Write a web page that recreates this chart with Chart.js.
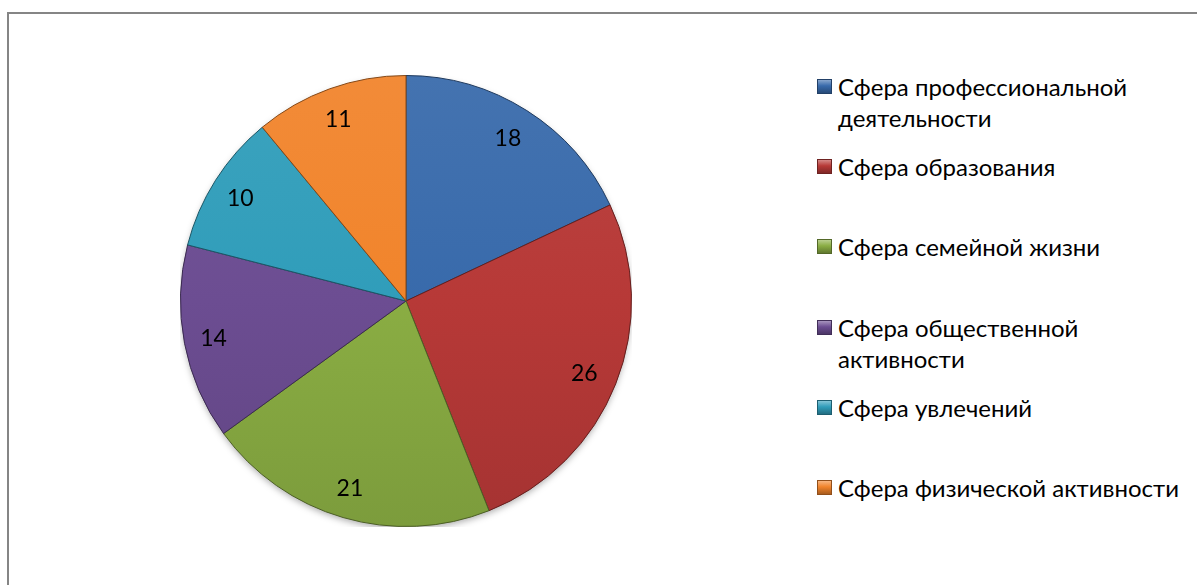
<!DOCTYPE html>
<html lang="ru">
<head>
<meta charset="utf-8">
<script src="https://cdn.jsdelivr.net/npm/chart.js@4/dist/chart.umd.min.js"></script>
<style>
  html, body { margin: 0; padding: 0; background: #fff; overflow: hidden; }
  body { width: 1197px; height: 585px; position: relative; font-family: Lato, "Noto Sans", sans-serif; }
  #frame { position: absolute; left: 7px; top: 12px; width: 1400px; height: 800px;
           border: 2px solid #858585; box-sizing: border-box; }
  #pieBox { position: absolute; left: 180px; top: 75px; width: 452px; height: 452px; }
  #legend { position: absolute; left: 817px; top: 71px; width: 380px; }
  .item { position: absolute; left: 0; font-size: 24px; line-height: 31px; color: #000; white-space: nowrap; }
  .item .txt { position: absolute; left: 21px; top: 0; }
  .item .box { position: absolute; left: 0; top: 8px; width: 15px; height: 15px; box-sizing: border-box; }
</style>
</head>
<body>
<div id="frame"></div>
<div id="pieBox"><canvas id="pie"></canvas></div>
<div id="legend"></div>
<script>
// categories / values
const LABELS = [
  "Сфера профессиональной деятельности",
  "Сфера образования",
  "Сфера семейной жизни",
  "Сфера общественной активности",
  "Сфера увлечений",
  "Сфера физической активности",
];
// how the legend wraps the long names
const LEGEND_LINES = [
  ["Сфера профессиональной", "деятельности"],
  ["Сфера образования"],
  ["Сфера семейной жизни"],
  ["Сфера общественной", "активности"],
  ["Сфера увлечений"],
  ["Сфера физической активности"],
];
const VALUES = [18, 26, 21, 14, 10, 11];
const COLORS = ["#386aab", "#b73937", "#8aad43", "#6c4d92", "#309dba", "#f1842b"];
const LEGEND_TOPS = [0, 80, 160, 241, 321, 401];

const shade = (hex, f) => {
  const n = parseInt(hex.slice(1), 16);
  const ch = [n >> 16, (n >> 8) & 255, n & 255].map(v =>
    Math.round(f >= 0 ? v + (255 - v) * f : v * (1 + f)));
  return `rgb(${ch.join(",")})`;
};

// html legend
const legend = document.getElementById("legend");
LEGEND_LINES.forEach((lines, i) => {
  const it = document.createElement("div");
  it.className = "item";
  it.style.top = LEGEND_TOPS[i] + "px";
  const box = document.createElement("div");
  box.className = "box";
  box.style.background = `linear-gradient(${shade(COLORS[i], 0.4)}, ${COLORS[i]} 45%, ${shade(COLORS[i], -0.3)})`;
  box.style.border = `1px solid ${shade(COLORS[i], -0.4)}`;
  const txt = document.createElement("div");
  txt.className = "txt";
  txt.innerHTML = lines.join("<br>");
  it.append(box, txt);
  legend.appendChild(it);
});

// soft shadow under the whole pie
const pieShadow = {
  id: "pieShadow",
  beforeDatasetsDraw(chart) {
    const arc = chart.getDatasetMeta(0).data[0];
    if (!arc) return;
    const { ctx } = chart;
    ctx.save();
    ctx.shadowColor = "rgba(0,0,0,0.35)";
    ctx.shadowBlur = 7;
    ctx.shadowOffsetY = 3;
    ctx.fillStyle = "#fff";
    ctx.beginPath();
    ctx.arc(arc.x, arc.y, arc.outerRadius - 1, 0, Math.PI * 2);
    ctx.fill();
    ctx.restore();
  },
};

// value labels at ~0.86 of the radius, like the original
const valueLabels = {
  id: "valueLabels",
  afterDatasetsDraw(chart) {
    const { ctx } = chart;
    const meta = chart.getDatasetMeta(0);
    ctx.save();
    ctx.font = "23px Lato, 'Noto Sans', sans-serif";
    ctx.fillStyle = "#000";
    ctx.textAlign = "center";
    ctx.textBaseline = "middle";
    meta.data.forEach((arc, i) => {
      const mid = (arc.startAngle + arc.endAngle) / 2;
      const r = arc.outerRadius * 0.86;
      ctx.fillText(String(VALUES[i]), arc.x + Math.cos(mid) * r - 2, arc.y + Math.sin(mid) * r + 1);
    });
    ctx.restore();
  },
};

new Chart(document.getElementById("pie").getContext("2d"), {
  type: "pie",
  data: {
    labels: LABELS,
    datasets: [{
      data: VALUES,
      backgroundColor: ctx => {
        const area = ctx.chart.chartArea;
        const base = COLORS[ctx.dataIndex];
        if (!area) return base;
        const g = ctx.chart.ctx.createLinearGradient(0, area.top, 0, area.bottom);
        g.addColorStop(0, shade(base, 0.06));
        g.addColorStop(0.5, base);
        g.addColorStop(1, shade(base, -0.1));
        return g;
      },
      borderColor: COLORS.map(c => shade(c, -0.45)),
      borderWidth: 1,
    }],
  },
  options: {
    responsive: true,
    maintainAspectRatio: false,
    animation: false,
    layout: { padding: 0 },
    plugins: { legend: { display: false }, tooltip: { enabled: false } },
  },
  plugins: [pieShadow, valueLabels],
});
</script>
</body>
</html>
